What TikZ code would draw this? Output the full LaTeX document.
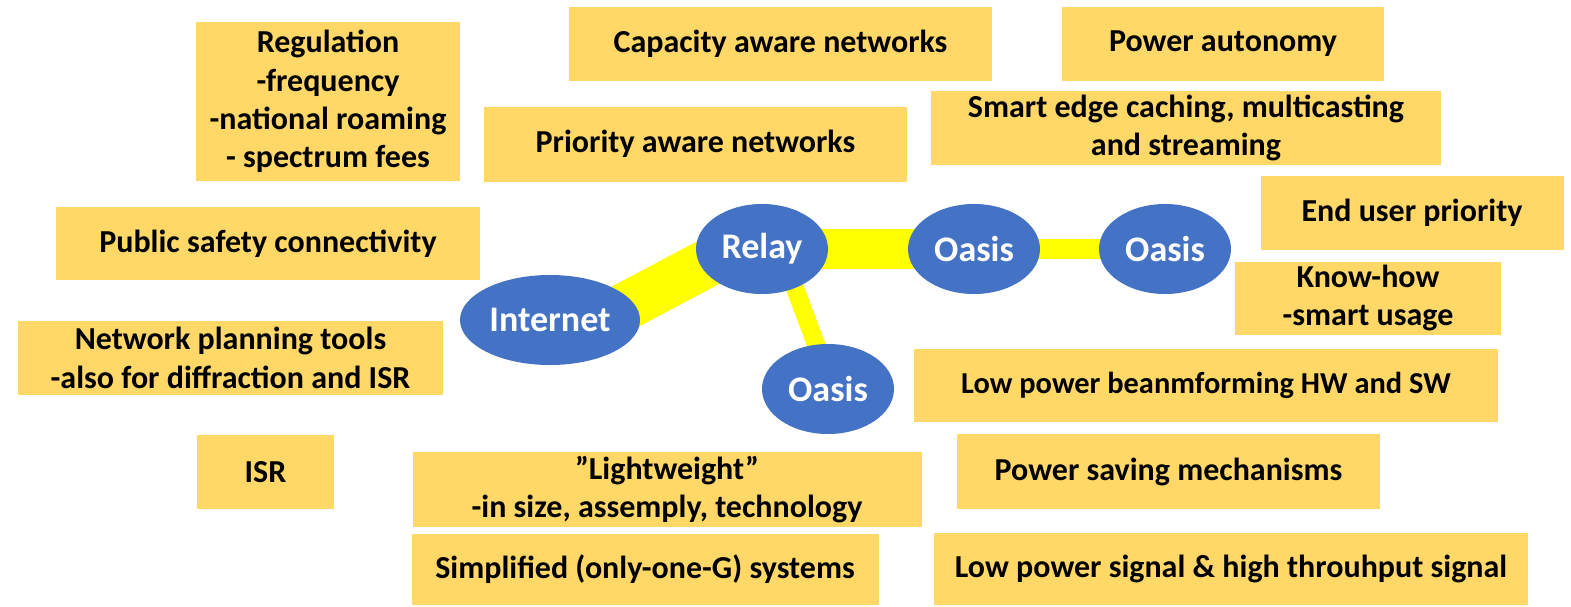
\documentclass[tikz,border=0pt]{standalone}
\usepackage{fontspec}
\setmainfont{Carlito}
\usetikzlibrary{backgrounds}
\definecolor{boxfill}{HTML}{FFD868}
\definecolor{ellfill}{HTML}{4472C4}
\definecolor{bandcol}{HTML}{FFFF00}
\tikzset{
  sz/.style 2 args={minimum width={#1*0.5pt}, minimum height={#2*0.5pt}},
  infobox/.style={fill=boxfill, draw=none, inner sep=0pt, align=center,
    font=\fontsize{16}{19.2}\selectfont\bfseries, text=black},
  site/.style={ellipse, fill=ellfill, draw=none, inner sep=0pt,
    font=\fontsize{18}{20}\selectfont\bfseries, text=white},
  band/.style={draw=bandcol, line cap=butt}
}
\usetikzlibrary{shapes.geometric}
\begin{document}
\begin{tikzpicture}[x=0.5pt,y=-0.5pt]
\useasboundingbox (0,0) rectangle (1571,606);
\begin{scope}[on background layer]
  \fill[white] (0,0) rectangle (1571,606);
\end{scope}
% boxes
\node[infobox, sz={264}{159}] (reg) at (328,101.5) {Regulation\\-frequency\\-national roaming\\- spectrum fees};
\node[infobox, sz={423}{74}] (cap) at (780.5,44) {Capacity aware networks};
\node[infobox, sz={322}{74}] (pow) at (1223,44) {Power autonomy};
\node[infobox, sz={423}{75}] (prio) at (695.5,144) {Priority aware networks};
\node[infobox, sz={510}{74}] (smart) at (1186,128) {Smart edge caching, multicasting\\and streaming};
\node[infobox, sz={303}{74}] (enduser) at (1412,213) {End user priority};
\node[infobox, sz={424}{73}] (pub) at (268,243.5) {Public safety connectivity};
\node[infobox, sz={266}{73}] (know) at (1368,298) {Know-how\\-smart usage};
\node[infobox, sz={425}{74}] (netplan) at (230.5,358) {Network planning tools\\-also for diffraction and ISR};
\node[infobox, sz={584}{73}, font=\fontsize{15.2}{19}\selectfont\bfseries] (beam) at (1206,385) {Low power beanmforming HW and SW};
\node[infobox, sz={137}{74}] (isr) at (265.5,472) {ISR};
\node[infobox, sz={509}{75}] (light) at (667,489.5) {”Lightweight”\\-in size, assemply, technology};
\node[infobox, sz={423}{75}] (psave) at (1168.5,471.5) {Power saving mechanisms};
\node[infobox, sz={467}{71}] (simp) at (645,569.5) {Simplified (only-one-G) systems};
\node[infobox, sz={594}{72}] (lowsig) at (1231,569) {Low power signal \& high throuhput signal};
% sites
\node[site, sz={180}{90}] (inet) at (550,320) {Internet};
\node[site, sz={132}{90}] (relay) at (762,249) {Relay};
\node[site, sz={132}{90}] (oasisa) at (974,249) {Oasis};
\node[site, sz={132}{90}] (oasisb) at (1165,249) {Oasis};
\node[site, sz={132}{90}] (oasisc) at (828,389) {Oasis};
% links
\begin{scope}[on background layer]
  \draw[band, line width=24pt, shorten <=-12pt, shorten >=-12pt] (inet.12) -- (relay.196);
  \draw[band, line width=20pt] (relay.center) -- (oasisa.center);
  \draw[band, line width=10pt] (oasisa.center) -- (oasisb.center);
  \draw[band, line width=9pt, shorten <=-10pt, shorten >=-10pt] (relay.310) -- (oasisc.105);
\end{scope}
\end{tikzpicture}
\end{document}
